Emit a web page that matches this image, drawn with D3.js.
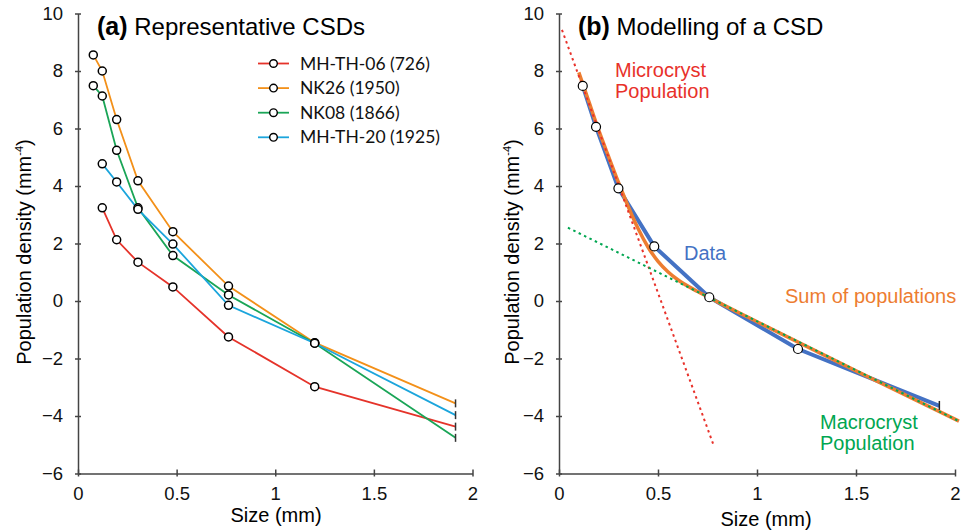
<!DOCTYPE html>
<html>
<head>
<meta charset="utf-8">
<script src="https://cdn.jsdelivr.net/npm/d3@7"></script>
<style>
  html, body { margin: 0; padding: 0; background: #fff; }
  svg { display: block; font-family: "Liberation Sans", Arial, sans-serif; }
</style>
</head>
<body>
<div id="chart"></div>
<script>
// ---- panel (a): representative CSDs ----
const csdNames = ["MH-TH-06 (726)", "NK26 (1950)", "NK08 (1866)", "MH-TH-20 (1925)"];
const csdColors = ["#e5332a", "#f39019", "#1aa557", "#1ba5dc"];

const mhth06Size = [0.123, 0.196, 0.304, 0.481, 0.763, 1.2, 1.914];
const mhth06Dens = [3.24, 2.13, 1.35, 0.49, -1.25, -2.98, -4.37];
const nk26Size = [0.0775, 0.123, 0.196, 0.304, 0.481, 0.763, 1.2, 1.914];
const nk26Dens = [8.56, 8.0, 6.31, 4.18, 2.41, 0.52, -1.45, -3.56];
const nk08Size = [0.0775, 0.123, 0.196, 0.304, 0.481, 0.763, 1.2, 1.914];
const nk08Dens = [7.49, 7.13, 5.24, 3.24, 1.58, 0.21, -1.47, -4.76];
const mhth20Size = [0.123, 0.196, 0.304, 0.481, 0.763, 1.2, 1.914];
const mhth20Dens = [4.77, 4.14, 3.19, 1.98, -0.15, -1.47, -3.97];

// ---- panel (b): modelling of a CSD ----
const dataSize = [0.12, 0.187, 0.30, 0.481, 0.759, 1.207, 1.921];
const dataDens = [7.48, 6.06, 3.92, 1.90, 0.13, -1.67, -3.65];
const sumSize = [0.1, 0.15, 0.2, 0.25, 0.3, 0.35, 0.4, 0.45, 0.5, 0.55, 0.6, 0.7, 0.8, 1.0, 1.5, 2.02];
const sumDens = [7.95, 6.95, 5.95, 5.03, 4.13, 3.28, 2.51, 1.87, 1.38, 1.02, 0.74, 0.33, -0.03, -0.72, -2.43, -4.18];
const microSize = [0.015, 0.78];
const microDens = [9.43, -5.0];
const macroSize = [0.045, 2.02];
const macroDens = [2.55, -4.18];

const xTickVals = [0, 0.5, 1, 1.5, 2];
const yTickVals = [-6, -4, -2, 0, 2, 4, 6, 8, 10];

const W = 973, H = 531;
const svg = d3.select("#chart").append("svg")
    .attr("width", W).attr("height", H)
    .attr("viewBox", `0 0 ${W} ${H}`);

let zip = (xs, ys) => xs.map((x, i) => ({x: x, y: ys[i]}));

// one panel = scales + axes + labels
let makePanel = (left, right, title, bold, labelX, labelY, yLabX) => {
    const x = d3.scaleLinear().domain([0, 2]).range([left, right]);
    const y = d3.scaleLinear().domain([-6, 10]).range([473.5, 13.5]);
    const axisCol = "#444";

    let yAxis = svg.append("g")
        .attr("transform", `translate(${left},0)`)
        .call(d3.axisLeft(y).tickValues(yTickVals).tickSizeOuter(0).tickSizeInner(3).tickPadding(12));
    yAxis.selectAll(".tick line").attr("x1", -3).attr("x2", 3);

    let xAxis = svg.append("g")
        .attr("transform", `translate(0,${y(-6)})`)
        .call(d3.axisBottom(x).tickValues(xTickVals).tickFormat(d3.format("")).tickSizeOuter(0).tickSizeInner(3).tickPadding(10));
    xAxis.selectAll(".tick line").attr("y1", -4).attr("y2", 3);

    [xAxis, yAxis].forEach(g => {
        g.select(".domain").attr("stroke", axisCol).attr("stroke-width", 1.5);
        g.selectAll(".tick line").attr("stroke", axisCol).attr("stroke-width", 1.5);
        g.selectAll("text").attr("fill", "#111").style("font-size", "18.5px")
            .style("font-family", "'Liberation Sans', Arial, sans-serif");
    });

    // x label
    svg.append("text")
        .attr("x", labelX).attr("y", labelY)
        .attr("text-anchor", "middle")
        .style("font-size", "20px")
        .text("Size (mm)");

    // y label with superscript
    let yl = svg.append("text")
        .attr("transform", `translate(${yLabX},252) rotate(-90)`)
        .attr("text-anchor", "middle")
        .style("font-size", "20px");
    yl.append("tspan").text("Population density (mm");
    yl.append("tspan").attr("dy", -8).style("font-size", "11px").text("-4");
    yl.append("tspan").attr("dy", 8).text(")");

    // title
    let t = svg.append("text").attr("x", left + 19).attr("y", 35).style("font-size", "24px");
    t.append("tspan").style("font-weight", "bold").style("font-size", "25px").text(bold);
    t.append("tspan").text(" " + title);

    return {x, y};
};

/* Panel (a) */
const pa = makePanel(78, 472.5, "Representative CSDs", "(a)", 276, 522, 31);
const seriesA = [
    zip(mhth06Size, mhth06Dens),
    zip(nk26Size, nk26Dens),
    zip(nk08Size, nk08Dens),
    zip(mhth20Size, mhth20Dens)
];
const lineA = d3.line().x(d => pa.x(d.x)).y(d => pa.y(d.y));

seriesA.forEach((s, i) => {
    svg.append("path")
        .attr("d", lineA(s))
        .attr("fill", "none")
        .attr("stroke", csdColors[i])
        .attr("stroke-width", 1.8);
});
seriesA.forEach((s, i) => {
    let last = s[s.length - 1];
    svg.append("line")
        .attr("x1", pa.x(last.x)).attr("x2", pa.x(last.x))
        .attr("y1", pa.y(last.y) - 4).attr("y2", pa.y(last.y) + 4)
        .attr("stroke", "#333").attr("stroke-width", 1.5);
    svg.append("g").selectAll("circle")
        .data(s.slice(0, -1))
        .join("circle")
        .attr("cx", d => pa.x(d.x))
        .attr("cy", d => pa.y(d.y))
        .attr("r", 4)
        .attr("fill", "#fff")
        .attr("stroke", "#000")
        .attr("stroke-width", 1.5);
});

// legend
let legend = svg.append("g");
csdNames.forEach((name, i) => {
    let yy = 63.5 + i * 24.6;
    legend.append("line")
        .attr("x1", 258).attr("x2", 289).attr("y1", yy).attr("y2", yy)
        .attr("stroke", csdColors[i]).attr("stroke-width", 1.8);
    legend.append("circle")
        .attr("cx", 273.5).attr("cy", yy).attr("r", 3.8)
        .attr("fill", "#fff").attr("stroke", "#000").attr("stroke-width", 1.4);
    legend.append("text")
        .attr("x", 300).attr("y", yy + 6)
        .style("font-family", "Lato, 'Open Sans', sans-serif")
        .style("font-size", "17.5px")
        .attr("fill", "#111")
        .text(name);
});

/* Panel (b) */
const pb = makePanel(559, 955, "Modelling of a CSD", "(b)", 766, 526, 519);
const lineB = d3.line().x(d => pb.x(d.x)).y(d => pb.y(d.y));

const dataPts = zip(dataSize, dataDens);
svg.append("path")
    .attr("d", lineB(dataPts))
    .attr("fill", "none")
    .attr("stroke", "#4472c4")
    .attr("stroke-width", 4)
    .attr("stroke-linejoin", "round");

svg.append("path")
    .attr("d", lineB.curve(d3.curveMonotoneX)(zip(sumSize, sumDens)))
    .attr("fill", "none")
    .attr("stroke", "#ed7d31")
    .attr("stroke-width", 3.5);
lineB.curve(d3.curveLinear);

svg.append("path")
    .attr("d", lineB(zip(microSize, microDens)))
    .attr("fill", "none")
    .attr("stroke", "#e8312a")
    .attr("stroke-width", 2)
    .attr("stroke-dasharray", "2.5,3.5");

svg.append("path")
    .attr("d", lineB(zip(macroSize, macroDens)))
    .attr("fill", "none")
    .attr("stroke", "#00a651")
    .attr("stroke-width", 2)
    .attr("stroke-dasharray", "2.5,3.5");

let lastB = dataPts[dataPts.length - 1];
svg.append("line")
    .attr("x1", pb.x(lastB.x)).attr("x2", pb.x(lastB.x))
    .attr("y1", pb.y(lastB.y) - 5).attr("y2", pb.y(lastB.y) + 4)
    .attr("stroke", "#222").attr("stroke-width", 1.5);

svg.append("g").selectAll("circle")
    .data(dataPts.slice(0, -1))
    .join("circle")
    .attr("cx", d => pb.x(d.x))
    .attr("cy", d => pb.y(d.y))
    .attr("r", 4.5)
    .attr("fill", "#fff")
    .attr("stroke", "#000")
    .attr("stroke-width", 1.2);

// annotations
let note = (x, y, col, lines) => {
    lines.forEach((l, i) => {
        svg.append("text")
            .attr("x", x).attr("y", y + i * 21)
            .attr("fill", col)
            .style("font-size", "20px")
            .text(l);
    });
};
note(615, 77, "#e8312a", ["Microcryst", "Population"]);
note(684, 260, "#4472c4", ["Data"]);
note(785, 303, "#ed7d31", ["Sum of populations"]);
note(820, 429, "#00a651", ["Macrocryst", "Population"]);
</script>
</body>
</html>
